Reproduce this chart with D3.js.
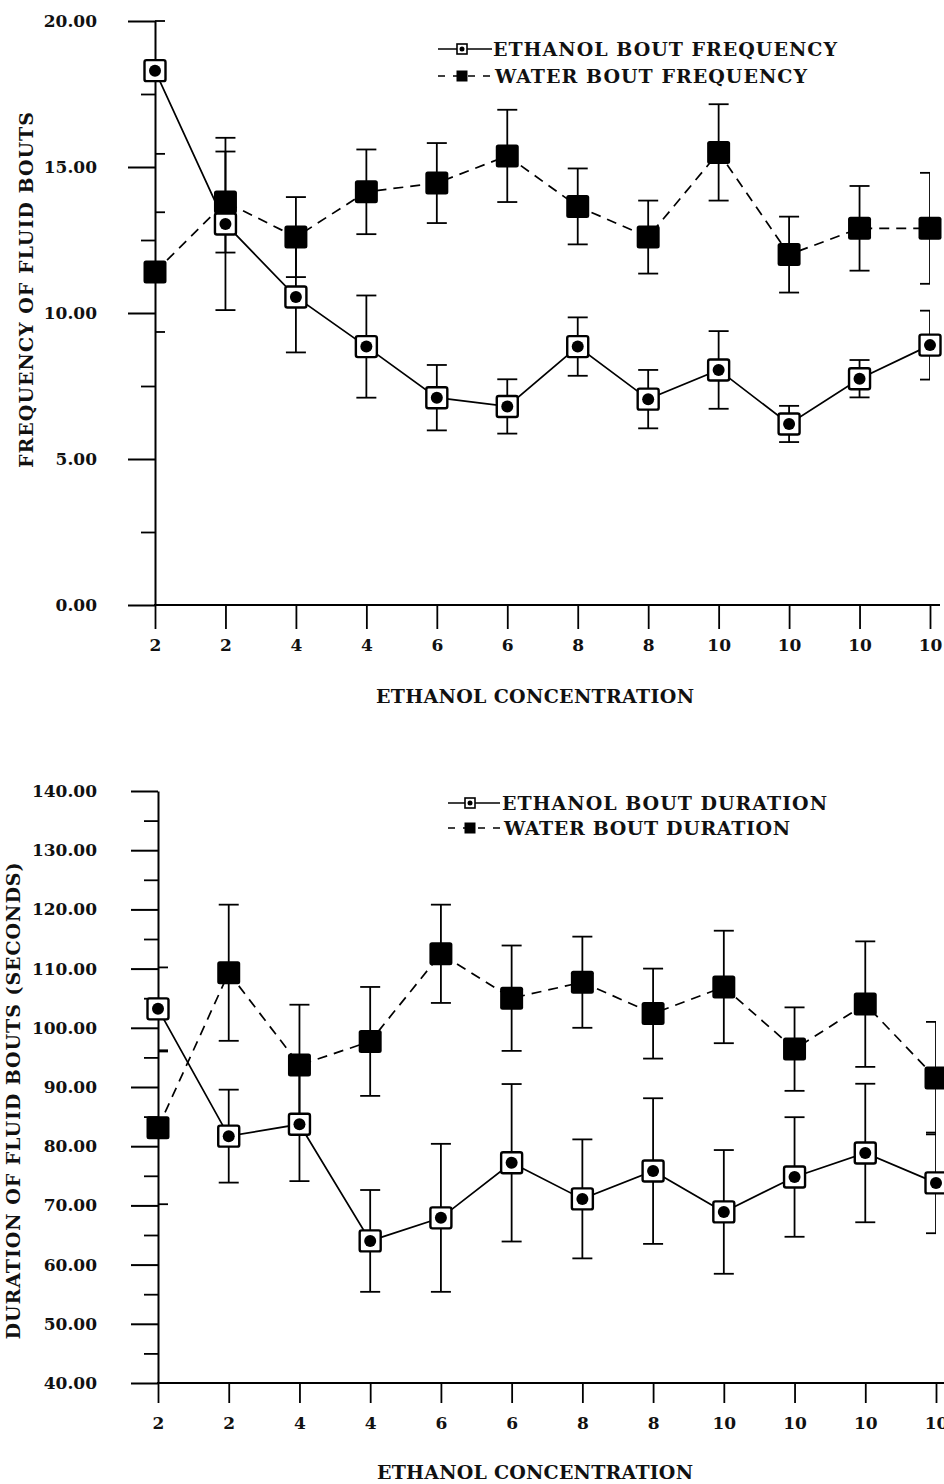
<!DOCTYPE html>
<html>
<head>
<meta charset="utf-8">
<script src="https://cdn.jsdelivr.net/npm/d3@7/dist/d3.min.js"></script>
<style>
body { margin: 0; background: #fff; }
text { font-family: "DejaVu Serif", serif; font-weight: bold; fill: #111; }
.tick text { font-size: 17px; }
.title { font-size: 19px; }
.legend text { font-size: 19px; }
</style>
</head>
<body>
<svg id="chart" width="944" height="1484"></svg>
<script>
// x categories (ethanol concentration, %)
const concLabels = ["2", "2", "4", "4", "6", "6", "8", "8", "10", "10", "10", "10"];

// bout frequency
const ethFreq      = [18.3, 13.05, 10.55, 8.85, 7.1, 6.8, 8.85, 7.05, 8.05, 6.2, 7.75, 8.9];
const ethFreqErr   = [2.85, 2.95, 1.9, 1.75, 1.12, 0.93, 1.0, 1.0, 1.33, 0.62, 0.64, 1.18];
const waterFreq    = [11.4, 13.8, 12.6, 14.15, 14.45, 15.38, 13.65, 12.6, 15.5, 12.0, 12.9, 12.9];
const waterFreqErr = [2.05, 1.73, 1.37, 1.45, 1.37, 1.58, 1.3, 1.25, 1.65, 1.3, 1.45, 1.9];

// bout duration (seconds)
const ethDur      = [103.2, 81.7, 83.7, 64.0, 67.9, 77.2, 71.1, 75.8, 68.9, 74.8, 78.85, 73.8];
const ethDurErr   = [7.0, 7.85, 9.6, 8.6, 12.5, 13.3, 10.05, 12.3, 10.45, 10.1, 11.7, 8.5];
const waterDur    = [83.1, 109.3, 93.7, 97.7, 112.5, 105.0, 107.7, 102.4, 106.9, 96.4, 104.0, 91.5];
const waterDurErr = [12.9, 11.5, 10.2, 9.2, 8.3, 8.9, 7.7, 7.6, 9.5, 7.05, 10.6, 9.5];

const svg = d3.select("#chart");

function drawPanel(p) {
  const g = svg.append("g");
  const idx = d3.range(concLabels.length);

  const x = d3.scalePoint().domain(idx).range(p.xRange);
  const y = d3.scaleLinear().domain(p.yDomain).range(p.yRange);

  const x0 = p.xRange[0], x1 = p.xRange[1];

  // y axis: major ticks with labels
  const yAxis = g.append("g")
      .attr("transform", "translate(" + x0 + ",0)")
      .call(d3.axisLeft(y)
        .tickValues(p.major)
        .tickSize(27)
        .tickSizeOuter(0)
        .tickPadding(p.labelPad)
        .tickFormat(d3.format(".2f")));
  yAxis.select(".domain").attr("stroke-width", 2);
  yAxis.selectAll(".tick line").attr("stroke-width", 2);

  // minor ticks
  const yMinor = g.append("g")
      .attr("transform", "translate(" + x0 + ",0)")
      .call(d3.axisLeft(y).tickValues(p.minor).tickSize(14).tickFormat(""));
  yMinor.select(".domain").remove();
  yMinor.selectAll(".tick line").attr("stroke-width", 1.8);

  // x axis
  const xAxis = g.append("g")
      .attr("transform", "translate(0," + p.yRange[0] + ")")
      .call(d3.axisBottom(x)
        .tickSize(p.xTick)
        .tickSizeOuter(0)
        .tickFormat(i => concLabels[i]));
  xAxis.select(".domain").remove();
  xAxis.selectAll(".tick line").attr("stroke-width", 1.8);
  xAxis.selectAll(".tick text").attr("y", 40).attr("dy", "0.35em");
  g.append("line")
      .attr("x1", x0 - 1).attr("x2", x1 + 10)
      .attr("y1", p.yRange[0]).attr("y2", p.yRange[0])
      .attr("stroke", "#000").attr("stroke-width", 2);

  // titles
  g.append("text").attr("class", "title")
      .attr("text-anchor", "middle")
      .attr("x", p.xTitle[0]).attr("y", p.xTitle[1])
      .attr("textLength", p.xTitle[2]).attr("lengthAdjust", "spacing")
      .text("ETHANOL CONCENTRATION");
  g.append("text").attr("class", "title")
      .attr("text-anchor", "middle")
      .attr("transform", "translate(" + p.yTitle[0] + "," + p.yTitle[1] + ") rotate(-90)")
      .attr("textLength", p.yTitle[2]).attr("lengthAdjust", "spacing")
      .text(p.yLabel);

  const line = d3.line().x((d, i) => x(i)).y(d => y(d));

  g.append("path").datum(p.eth)
      .attr("d", line).attr("fill", "none")
      .attr("stroke", "#000").attr("stroke-width", 1.7);
  g.append("path").datum(p.water)
      .attr("d", line).attr("fill", "none")
      .attr("stroke", "#000").attr("stroke-width", 1.7)
      .attr("stroke-dasharray", "10,7");

  // error bars, clipped to the plotting band
  const clipId = "clip" + p.id;
  svg.append("clipPath").attr("id", clipId)
    .append("rect")
      .attr("x", x0).attr("y", 0)
      .attr("width", x1 - x0).attr("height", 1484);
  const eb = g.append("g").attr("clip-path", "url(#" + clipId + ")");
  const lo = p.yDomain[0], hi = p.yDomain[1];
  [[p.eth, p.ethErr], [p.water, p.waterErr]].forEach(function(s) {
    s[0].forEach(function(v, i) {
      const top = Math.min(v + s[1][i], hi);
      const bot = Math.max(v - s[1][i], lo);
      eb.append("line")
          .attr("x1", x(i)).attr("x2", x(i))
          .attr("y1", y(top)).attr("y2", y(bot))
          .attr("stroke", "#000").attr("stroke-width", 1.8);
      [top, bot].forEach(function(c) {
        eb.append("line")
            .attr("x1", x(i) - 10).attr("x2", x(i) + 10)
            .attr("y1", y(c)).attr("y2", y(c))
            .attr("stroke", "#000").attr("stroke-width", 1.8);
      });
    });
  });

  // ethanol markers: open square with a dot
  const em = g.append("g").selectAll("g")
      .data(p.eth).enter().append("g")
      .attr("transform", (d, i) => "translate(" + x(i) + "," + y(d) + ")");
  em.append("rect")
      .attr("x", -10.5).attr("y", -10.5).attr("width", 21).attr("height", 21)
      .attr("rx", 2).attr("fill", "#fff").attr("stroke", "#000").attr("stroke-width", 2.4);
  em.append("circle").attr("r", 6).attr("fill", "#000");

  // water markers: solid square
  g.append("g").selectAll("rect")
      .data(p.water).enter().append("rect")
      .attr("x", (d, i) => x(i) - 11.5)
      .attr("y", d => y(d) - 11.5)
      .attr("width", 23).attr("height", 23)
      .attr("rx", 2.5).attr("fill", "#000");

  // legend
  const lg = g.append("g").attr("class", "legend");
  const L = p.legend;
  const ly1 = L.base[0] - 7, ly2 = L.base[1] - 7;
  lg.append("line")
      .attr("x1", L.sx[0]).attr("x2", L.sx[1]).attr("y1", ly1).attr("y2", ly1)
      .attr("stroke", "#000").attr("stroke-width", 1.6);
  lg.append("rect")
      .attr("x", L.mx - 5).attr("y", ly1 - 5).attr("width", 10).attr("height", 10)
      .attr("fill", "#fff").attr("stroke", "#000").attr("stroke-width", 1.6);
  lg.append("circle").attr("cx", L.mx).attr("cy", ly1).attr("r", 2.5).attr("fill", "#000");
  lg.append("line")
      .attr("x1", L.sx[0]).attr("x2", L.sx[1]).attr("y1", ly2).attr("y2", ly2)
      .attr("stroke", "#000").attr("stroke-width", 1.6)
      .attr("stroke-dasharray", "7,8");
  lg.append("rect")
      .attr("x", L.mx - 5.5).attr("y", ly2 - 5.5).attr("width", 11).attr("height", 11)
      .attr("fill", "#000");
  lg.append("text")
      .attr("x", L.tx).attr("y", L.base[0])
      .attr("textLength", L.len[0]).attr("lengthAdjust", "spacing")
      .text(L.names[0]);
  lg.append("text")
      .attr("x", L.tx + 2).attr("y", L.base[1])
      .attr("textLength", L.len[1]).attr("lengthAdjust", "spacing")
      .text(L.names[1]);
}

drawPanel({
  id: "freq",
  yDomain: [0, 20], yRange: [605, 21], xRange: [155, 930],
  major: [0, 5, 10, 15, 20], minor: [2.5, 7.5, 12.5, 17.5],
  labelPad: 31, xTick: 24,
  eth: ethFreq, ethErr: ethFreqErr, water: waterFreq, waterErr: waterFreqErr,
  yLabel: "FREQUENCY OF FLUID BOUTS",
  xTitle: [535, 703, 318], yTitle: [33, 290, 356],
  legend: {
    names: ["ETHANOL BOUT FREQUENCY", "WATER BOUT FREQUENCY"],
    tx: 493, base: [56, 83], len: [344, 312], sx: [438, 492], mx: 462
  }
});

drawPanel({
  id: "dur",
  yDomain: [40, 140], yRange: [1383, 791], xRange: [158, 936],
  major: d3.range(40, 141, 10), minor: d3.range(45, 140, 10),
  labelPad: 34, xTick: 20,
  eth: ethDur, ethErr: ethDurErr, water: waterDur, waterErr: waterDurErr,
  yLabel: "DURATION OF FLUID BOUTS (SECONDS)",
  xTitle: [535, 1479, 316], yTitle: [20, 1101, 477],
  legend: {
    names: ["ETHANOL BOUT DURATION", "WATER BOUT DURATION"],
    tx: 502, base: [810, 835], len: [325, 286], sx: [448, 500], mx: 470
  }
});
</script>
</body>
</html>
